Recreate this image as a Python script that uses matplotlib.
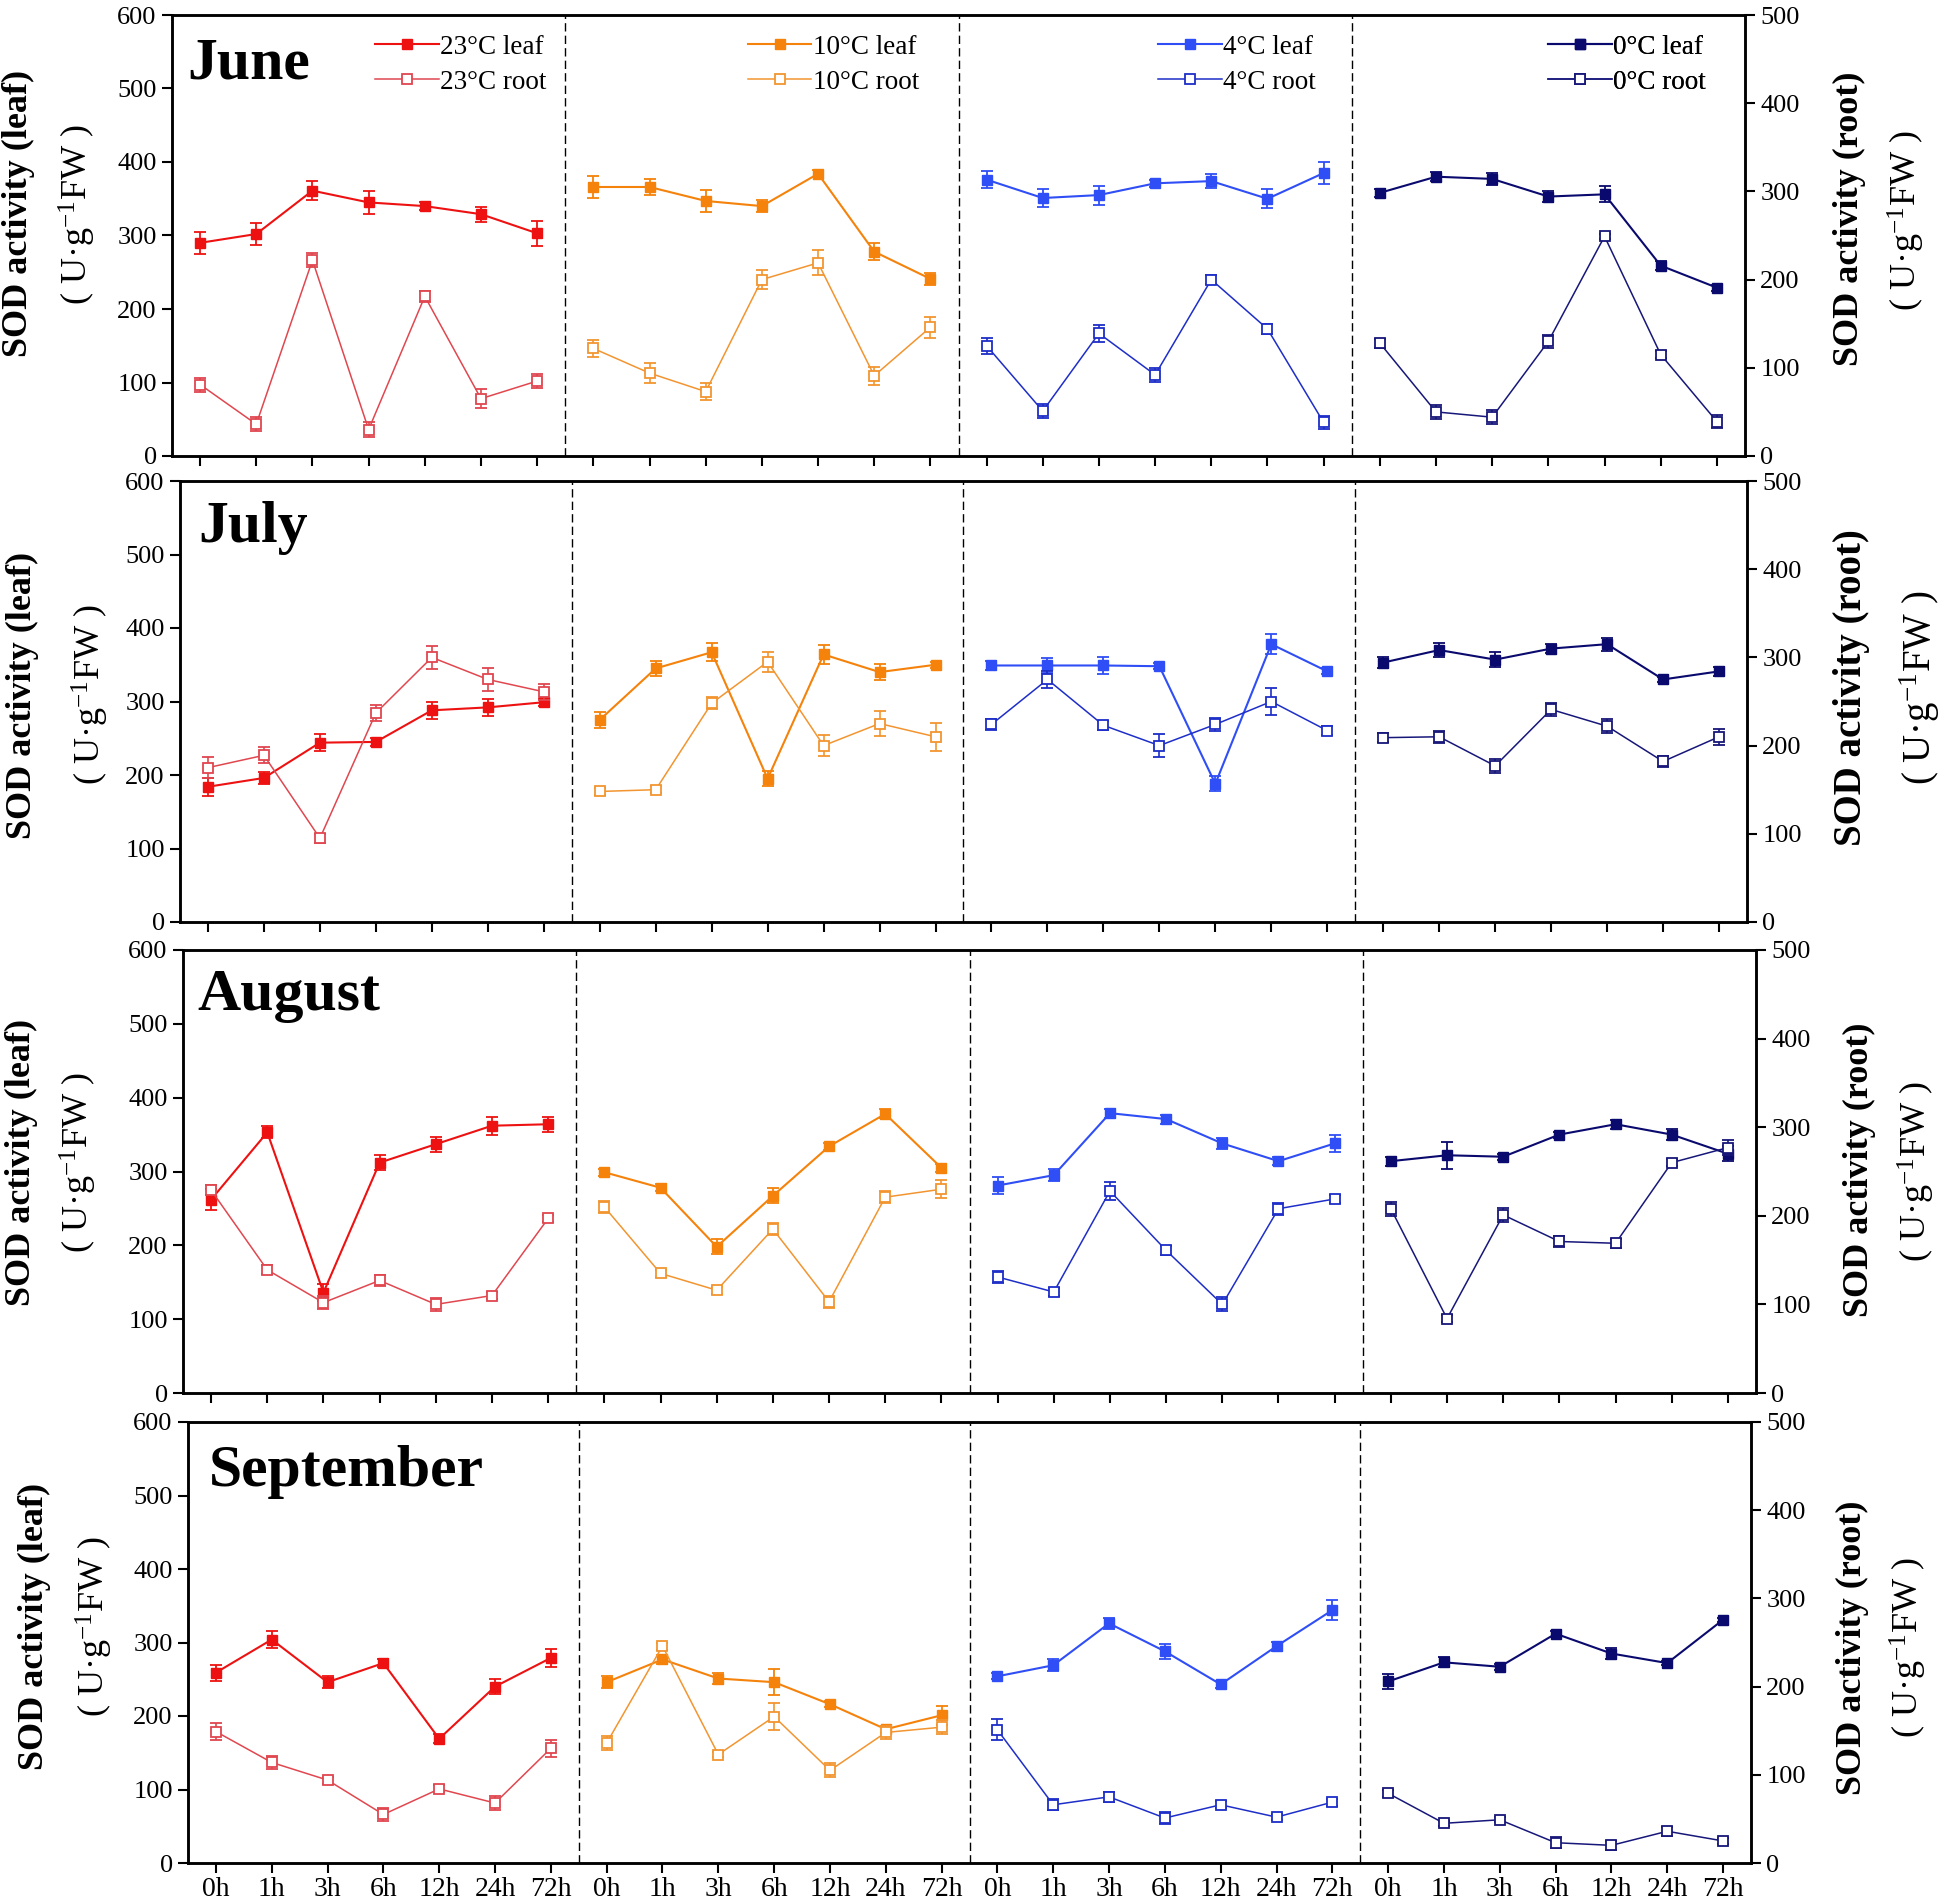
import numpy as np
import matplotlib.pyplot as plt
from matplotlib.lines import Line2D

plt.rcParams['font.family'] = 'Liberation Serif'
plt.rcParams['mathtext.fontset'] = 'custom'
plt.rcParams['mathtext.rm'] = 'Liberation Serif'
plt.rcParams['mathtext.it'] = 'Liberation Serif:italic'
plt.rcParams['mathtext.bf'] = 'Liberation Serif:bold'

# categories
times = ['0h', '1h', '3h', '6h', '12h', '24h', '72h']
temps = ['23°C', '10°C', '4°C', '0°C']
months = ['June', 'July', 'August', 'September']

# SOD activity, 7 time points per temperature in the order 23, 10, 4, 0 °C
# leaf values on the left axis, root values on the right axis
june_leaf = [290, 302, 361, 345, 340, 329, 303,
             366, 366, 347, 340, 384, 278, 241,
             376, 351, 355, 371, 374, 350, 385,
             358, 380, 377, 353, 356, 259, 229]
june_leaf_err = [15, 15, 13, 16, 5, 10, 17,
                 15, 11, 15, 8, 5, 12, 8,
                 12, 12, 13, 5, 9, 13, 15,
                 5, 6, 8, 8, 11, 6, 4]
june_root = [81, 36, 222, 30, 181, 65, 85,
             122, 94, 73, 200, 219, 91, 146,
             125, 51, 139, 92, 200, 144, 38,
             128, 50, 44, 130, 249, 115, 39]
june_root_err = [8, 8, 8, 8, 6, 11, 8,
                 10, 11, 10, 11, 14, 10, 12,
                 9, 8, 10, 8, 5, 6, 7,
                 5, 8, 8, 7, 3, 4, 7]

july_leaf = [184, 196, 244, 245, 288, 292, 299,
             275, 345, 367, 195, 364, 340, 350,
             349, 349, 349, 348, 188, 378, 341,
             353, 370, 357, 372, 378, 330, 341]
july_leaf_err = [12, 8, 12, 6, 12, 12, 5,
                 11, 10, 12, 10, 13, 11, 4,
                 6, 10, 12, 4, 10, 14, 4,
                 8, 9, 10, 6, 9, 4, 6]
july_root = [175, 189, 95, 237, 300, 275, 261,
             148, 150, 248, 295, 200, 225, 210,
             224, 275, 223, 200, 224, 250, 217,
             209, 210, 177, 241, 222, 182, 210]
july_root_err = [12, 9, 5, 9, 13, 13, 9,
                 4, 4, 7, 11, 12, 14, 16,
                 6, 10, 5, 13, 7, 15, 5,
                 5, 7, 8, 7, 8, 6, 9]

august_leaf = [262, 353, 136, 312, 337, 362, 364,
               299, 278, 198, 267, 334, 378, 305,
               281, 295, 379, 371, 338, 314, 338,
               314, 322, 320, 350, 364, 350, 324]
august_leaf_err = [14, 8, 12, 10, 10, 12, 10,
                   5, 5, 10, 10, 5, 6, 5,
                   12, 8, 6, 6, 7, 5, 12,
                   6, 18, 4, 4, 6, 7, 10]
august_root = [229, 139, 102, 127, 100, 110, 197,
               210, 135, 116, 185, 103, 221, 230,
               131, 114, 228, 161, 100, 208, 219,
               208, 84, 201, 171, 169, 260, 277]
august_root_err = [6, 5, 7, 6, 7, 4, 4,
                   7, 4, 4, 7, 7, 7, 10,
                   7, 5, 10, 5, 8, 7, 5,
                   8, 4, 8, 6, 5, 4, 8]

september_leaf = [259, 304, 246, 272, 169, 240, 279,
                  246, 277, 251, 246, 216, 182, 201,
                  254, 269, 326, 288, 243, 295, 344,
                  247, 273, 267, 312, 285, 272, 331]
september_leaf_err = [11, 12, 8, 5, 6, 10, 12,
                      8, 6, 8, 18, 4, 5, 13,
                      4, 8, 8, 10, 5, 6, 14,
                      10, 7, 4, 4, 7, 3, 3]
september_root = [149, 114, 94, 55, 84, 68, 130,
                  136, 246, 123, 166, 105, 148, 154,
                  151, 66, 75, 51, 66, 52, 69,
                  79, 45, 49, 23, 20, 36, 25]
september_root_err = [10, 7, 4, 7, 4, 8, 10,
                      8, 4, 3, 15, 8, 7, 8,
                      12, 6, 6, 7, 4, 3, 4,
                      4, 3, 3, 6, 5, 5, 3]

leaf_colors = ['#EE1111', '#F5820A', '#2F4EF5', '#0A0A6E']
root_colors = ['#E0474F', '#F29530', '#1E2EC8', '#17177A']

month_data = [
    (june_leaf, june_leaf_err, june_root, june_root_err),
    (july_leaf, july_leaf_err, july_root, july_root_err),
    (august_leaf, august_leaf_err, august_root, august_root_err),
    (september_leaf, september_leaf_err, september_root, september_root_err),
]

W, H = 1952, 1900
fig = plt.figure(figsize=(W / 100, H / 100), dpi=100)

# pixel box of each row (left, right, top, bottom)
row_boxes = [(172, 1745, 15, 456), (180, 1747, 481, 922),
             (183, 1756, 950, 1393), (188, 1751, 1422, 1863)]
month_pos = [(0.0095, 0.857), (0.012, 0.862), (0.009, 0.865), (0.0134, 0.855)]
# y label centres in pixels: left line1, left line2, right line1, right line2
label_pos = [
    [(18, 213), (77, 215), (1849, 219), (1906, 221)],
    [(22, 695), (90, 695), (1851, 688), (1920, 688)],
    [(21, 1162), (78, 1163), (1859, 1170), (1916, 1172)],
    [(34, 1626), (94, 1627), (1852, 1648), (1908, 1648)],
]
unit_text = '( U·g$^{-1}$FW )'

for r in range(4):
    l, rt, t, b = row_boxes[r]
    ax = fig.add_axes([l / W, 1 - b / H, (rt - l) / W, (b - t) / H])
    ax2 = ax.twinx()
    leaf, leaf_err, root, root_err = month_data[r]

    for k in range(4):
        x = np.arange(7) + 7 * k
        sl = slice(7 * k, 7 * k + 7)
        ax.errorbar(x, leaf[sl], yerr=leaf_err[sl], color=leaf_colors[k],
                    marker='s', ms=7, lw=1.5, elinewidth=1.3, capsize=4, capthick=1.3)
        ax2.errorbar(x, root[sl], yerr=root_err[sl], color=root_colors[k],
                     marker='s', ms=7, mfc='white', mec=root_colors[k], mew=1.3,
                     lw=1.1, elinewidth=1.2, capsize=4, capthick=1.2)

    # dashed separators between temperature groups
    for s in [6.5, 13.5, 20.5]:
        ax.axvline(s, color='black', lw=1.0, ls=(0, (6, 3)))

    ax.set_xlim(-0.5, 27.5)
    ax.set_ylim(0, 600)
    ax2.set_ylim(0, 500)
    ax.set_yticks(range(0, 601, 100))
    ax2.set_yticks(range(0, 501, 100))
    ax.set_xticks(range(28))
    if r == 3:
        ax.set_xticklabels(times * 4)
    else:
        ax.set_xticklabels([])

    ax.tick_params(axis='both', direction='out', length=7, width=1.5, labelsize=19, pad=4)
    ax.tick_params(axis='x', labelsize=20, pad=3)
    ax2.tick_params(axis='y', direction='out', length=7, width=1.5, labelsize=19, pad=4)
    for a in (ax, ax2):
        for sp in a.spines.values():
            sp.set_linewidth(1.8)

    ax.text(month_pos[r][0], month_pos[r][1], months[r], transform=ax.transAxes,
            fontsize=43, fontweight='bold', va='baseline', ha='left')

    # axis titles
    rsize = 28 if r == 1 else 26
    p = label_pos[r]
    fig.text(p[0][0] / W, 1 - p[0][1] / H, 'SOD activity (leaf)', rotation=90,
             ha='center', va='center', fontsize=26, fontweight='bold')
    fig.text(p[1][0] / W, 1 - p[1][1] / H, unit_text, rotation=90,
             ha='center', va='center', fontsize=26)
    fig.text(p[2][0] / W, 1 - p[2][1] / H, 'SOD activity (root)', rotation=90,
             ha='center', va='center', fontsize=rsize, fontweight='bold')
    fig.text(p[3][0] / W, 1 - p[3][1] / H, unit_text, rotation=90,
             ha='center', va='center', fontsize=rsize)

    if r == 0:
        leg_x = [0.129, 0.366, 0.627, 0.875]
        for k in range(4):
            handles = [Line2D([], [], color=leaf_colors[k], marker='s', ms=7, lw=1.5),
                       Line2D([], [], color=root_colors[k], marker='s', ms=7, lw=1.1,
                              mfc='white', mec=root_colors[k], mew=1.3)]
            leg = ax2.legend(handles, [temps[k] + ' leaf', temps[k] + ' root'],
                             loc='upper left', bbox_to_anchor=(leg_x[k], 0.955),
                             frameon=False, fontsize=19.5, handlelength=2.35,
                             handletextpad=0.05, labelspacing=0.36,
                             borderpad=0, borderaxespad=0)
            ax2.add_artist(leg)

fig.savefig('out.png', dpi=100)
